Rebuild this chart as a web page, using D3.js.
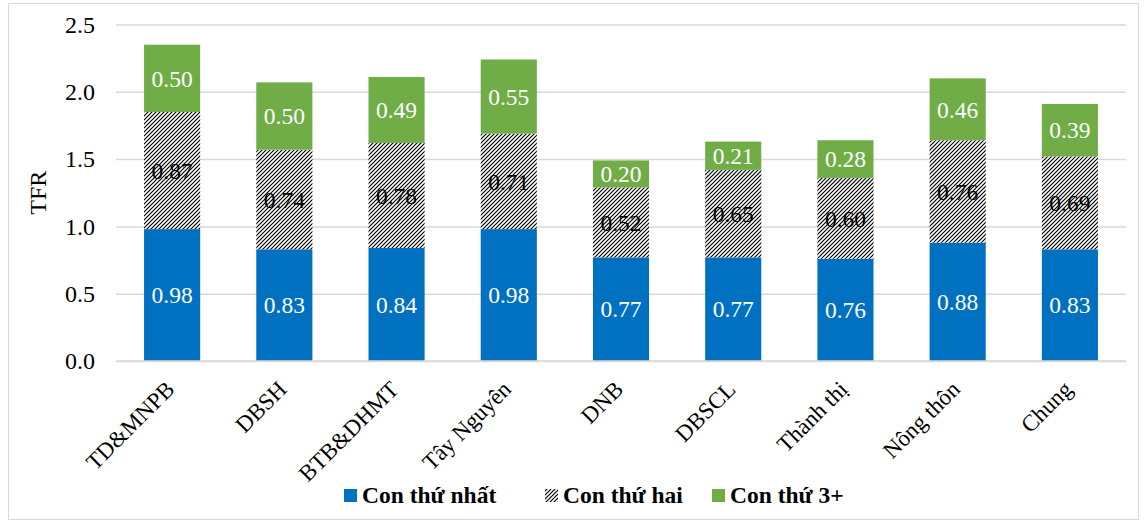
<!DOCTYPE html>
<html>
<head>
<meta charset="utf-8">
<script src="https://cdn.jsdelivr.net/npm/d3@7/dist/d3.min.js"></script>
<style>
  html, body { margin: 0; padding: 0; background: #fff; }
  svg { display: block; }
  svg text { font-family: "Liberation Serif", "Times New Roman", serif; }
</style>
</head>
<body>
<svg id="chart" width="1147" height="524"></svg>
<script>
// Total fertility rate by birth order, per region / residence
const categories = ["TD&MNPB", "DBSH", "BTB&DHMT", "Tây Nguyên", "DNB", "DBSCL", "Thành thị", "Nông thôn", "Chung"];
const firstBirth  = [0.98, 0.83, 0.84, 0.98, 0.77, 0.77, 0.76, 0.88, 0.83];
const secondBirth = [0.87, 0.74, 0.78, 0.71, 0.52, 0.65, 0.60, 0.76, 0.69];
const thirdPlus   = [0.50, 0.50, 0.49, 0.55, 0.20, 0.21, 0.28, 0.46, 0.39];
const seriesNames = ["Con thứ nhất", "Con thứ hai", "Con thứ 3+"];
const yTicks = [0, 0.5, 1.0, 1.5, 2.0, 2.5];

const W = 1147, H = 524;
const margin = { left: 116, right: 21, top: 24.5, bottom: 163 };
const FONT = "Liberation Serif, Times New Roman, serif";
const svg = d3.select("#chart");

// hatch pattern for the second-birth segment
const defs = svg.append("defs");
const pat = defs.append("pattern")
  .attr("id", "hatch")
  .attr("patternUnits", "userSpaceOnUse")
  .attr("width", 4).attr("height", 4);
pat.append("rect").attr("width", 4).attr("height", 4).attr("fill", "#fff");
pat.append("path")
  .attr("d", "M-1,1 l2,-2 M0,4 l4,-4 M3,5 l2,-2")
  .attr("stroke", "#000").attr("stroke-width", 1.2);

// outer frame
svg.append("rect")
  .attr("x", 8.5).attr("y", 3.5).attr("width", W - 17).attr("height", H - 8)
  .attr("fill", "#fff").attr("stroke", "#d9d9d9").attr("stroke-width", 1);

const x = d3.scaleBand()
  .domain(categories)
  .range([margin.left, W - margin.right])
  .paddingInner(0.5).paddingOuter(0.25);

const y = d3.scaleLinear()
  .domain([0, 2.5])
  .range([H - margin.bottom, margin.top]);

// gridlines + y tick labels
const yAxis = d3.axisLeft(y).tickValues(yTicks).tickFormat(d3.format(".1f"))
  .tickSize(-(W - margin.right - margin.left)).tickPadding(21);
const gy = svg.append("g")
  .attr("transform", `translate(${margin.left},0)`)
  .call(yAxis)
  .attr("font-family", FONT);
gy.select(".domain").remove();
gy.selectAll(".tick line").attr("stroke", "#d9d9d9").attr("stroke-width", 1.5);
gy.selectAll(".tick text")
  .attr("font-size", 24).attr("fill", "#000")
  .attr("font-family", FONT);

// axis title
svg.append("text")
  .attr("transform", `translate(46,${y(1.25)}) rotate(-90)`)
  .attr("text-anchor", "middle")
  .attr("font-family", FONT)
  .attr("font-size", 24)
  .text("TFR");

// stacked data
const rows = categories.map((c, i) => ({ cat: c, a: firstBirth[i], b: secondBirth[i], c3: thirdPlus[i] }));
const stack = d3.stack().keys(["a", "b", "c3"]);
const layers = stack(rows);
const fills = ["#0070C0", "url(#hatch)", "#70AD47"];
const labelColors = ["#fff", "#000", "#fff"];

layers.forEach((layer, li) => {
  const g = svg.append("g");
  g.selectAll("rect")
    .data(layer)
    .join("rect")
    .attr("x", d => x(d.data.cat))
    .attr("width", x.bandwidth())
    .attr("y", d => y(d[1]))
    .attr("height", d => y(d[0]) - y(d[1]))
    .attr("fill", fills[li]);
  g.selectAll("text")
    .data(layer)
    .join("text")
    .attr("x", d => x(d.data.cat) + x.bandwidth() / 2)
    .attr("y", d => (y(d[0]) + y(d[1])) / 2)
    .attr("dy", "0.35em")
    .attr("text-anchor", "middle")
    .attr("font-family", FONT)
    .attr("font-size", 23.5)
    .attr("fill", labelColors[li])
    .text(d => d3.format(".2f")(d[1] - d[0]));
});

// baseline
svg.append("line")
  .attr("x1", margin.left).attr("x2", W - margin.right)
  .attr("y1", y(0)).attr("y2", y(0))
  .attr("stroke", "#d9d9d9").attr("stroke-width", 1.5);

// rotated category labels
svg.append("g").selectAll("text")
  .data(categories)
  .join("text")
  .attr("transform", d => `translate(${x(d) + x.bandwidth() / 2 - 2},${y(0) + 24}) rotate(-45)`)
  .attr("text-anchor", "end")
  .attr("dy", "0.35em")
  .attr("font-family", FONT)
  .attr("font-size", 23)
  .text(d => d);

// legend
const legendItems = [
  { name: seriesNames[0], fill: fills[0], x: 344 },
  { name: seriesNames[1], fill: fills[1], x: 545 },
  { name: seriesNames[2], fill: fills[2], x: 712 }
];
const lg = svg.append("g");
legendItems.forEach(it => {
  lg.append("rect")
    .attr("x", it.x).attr("y", 489).attr("width", 13).attr("height", 13)
    .attr("fill", it.fill);
  lg.append("text")
    .attr("x", it.x + 18).attr("y", 503)
    .attr("font-family", FONT)
    .attr("font-size", 23.5).attr("font-weight", "bold")
    .text(it.name);
});
</script>
</body>
</html>
